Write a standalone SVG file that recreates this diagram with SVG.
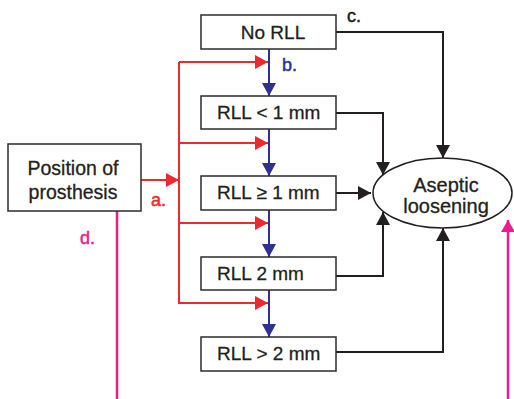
<svg xmlns="http://www.w3.org/2000/svg" width="514" height="399" viewBox="0 0 514 399">
<defs>
<style>
.box{fill:#fff;stroke:#2b2b2b;stroke-width:1.5}
.t{font-family:"Liberation Sans",Arial,sans-serif;font-size:19px;fill:#231f20;stroke:#231f20;stroke-width:0.3;text-anchor:middle}
.l{text-anchor:start}
.lbl{font-family:"Liberation Sans",Arial,sans-serif;font-size:18px;stroke-width:0.5}
.red{stroke:#ec2a2e;stroke-width:2;fill:none}
.blue{stroke:#2e3192;stroke-width:2;fill:none}
.blk{stroke:#231f20;stroke-width:2;fill:none}
.mag{stroke:#ec1c8c;stroke-width:2.5;fill:none}
</style>
<marker id="aR" markerUnits="userSpaceOnUse" markerWidth="13" markerHeight="14" refX="13" refY="7" orient="auto"><path d="M0,0 L13,7 L0,14 z" fill="#ec2a2e"/></marker>
<marker id="aB" markerUnits="userSpaceOnUse" markerWidth="13" markerHeight="14" refX="13" refY="7" orient="auto"><path d="M0,0 L13,7 L0,14 z" fill="#2e3192"/></marker>
<marker id="aK" markerUnits="userSpaceOnUse" markerWidth="13" markerHeight="14" refX="13" refY="7" orient="auto"><path d="M0,0 L13,7 L0,14 z" fill="#231f20"/></marker>
<marker id="aM" markerUnits="userSpaceOnUse" markerWidth="12" markerHeight="14" refX="12" refY="7" orient="auto"><path d="M0,0 L12,7 L0,14 z" fill="#ec1c8c"/></marker>
</defs>
<g id="connectors">
<path class="red" d="M179,62 V304"/>
<path class="red" d="M141,180 H179" marker-end="url(#aR)"/>
<path class="red" d="M179,62 H268" marker-end="url(#aR)"/>
<path class="red" d="M179,143 H268" marker-end="url(#aR)"/>
<path class="red" d="M179,223 H268" marker-end="url(#aR)"/>
<path class="red" d="M179,303 H268" marker-end="url(#aR)"/>
<path class="blue" d="M269,49 V96" marker-end="url(#aB)"/>
<path class="blue" d="M269,129 V176" marker-end="url(#aB)"/>
<path class="blue" d="M269,210 V257" marker-end="url(#aB)"/>
<path class="blue" d="M269,290 V337" marker-end="url(#aB)"/>
<path class="blk" d="M336,32 H443 V158" marker-end="url(#aK)"/>
<path class="blk" d="M336,113 H383 V175" marker-end="url(#aK)"/>
<path class="blk" d="M336,193 H371" marker-end="url(#aK)"/>
<path class="blk" d="M336,276 H383 V212" marker-end="url(#aK)"/>
<path class="blk" d="M336,352 H443 V228" marker-end="url(#aK)"/>
<path class="mag" d="M117,211 V399"/>
<path class="mag" d="M508,399 V220" marker-end="url(#aM)"/>
<text class="lbl" x="151" y="206" fill="#ec2a2e" stroke="#ec2a2e">a.</text>
<text class="lbl" x="282" y="71" fill="#2e3192" stroke="#2e3192">b.</text>
<text class="lbl" x="347" y="22" fill="#231f20" stroke="#231f20">c.</text>
<text class="lbl" x="80" y="244" fill="#ec1c8c" stroke="#ec1c8c">d.</text>
</g>
<g id="position">
<rect class="box" x="8" y="144" width="133" height="67"/>
<text class="t" x="73" y="175" style="font-size:19.5px">Position of</text>
<text class="t" x="73" y="199" style="font-size:19.5px">prosthesis</text>
</g>
<g id="norll">
<rect class="box" x="201" y="15" width="135" height="34"/>
<text class="t" x="273" y="39">No RLL</text>
</g>
<g id="rll-lt1">
<rect class="box" x="201" y="96" width="135" height="33"/>
<text class="t l" x="217" y="119">RLL &lt; 1 mm</text>
</g>
<g id="rll-ge1">
<rect class="box" x="201" y="176" width="135" height="34"/>
<text class="t l" x="217" y="199">RLL ≥ 1 mm</text>
</g>
<g id="rll-2">
<rect class="box" x="201" y="257" width="135" height="33"/>
<text class="t l" x="217" y="280">RLL 2 mm</text>
</g>
<g id="rll-gt2">
<rect class="box" x="201" y="337" width="135" height="34"/>
<text class="t l" x="217" y="360">RLL &gt; 2 mm</text>
</g>
<g id="aseptic">
<ellipse cx="442.5" cy="193" rx="69.5" ry="35" fill="#fff" stroke="#231f20" stroke-width="1.5"/>
<text class="t" x="446" y="192" style="font-size:20px">Aseptic</text>
<text class="t" x="446" y="213" style="font-size:20px">loosening</text>
</g>
</svg>
